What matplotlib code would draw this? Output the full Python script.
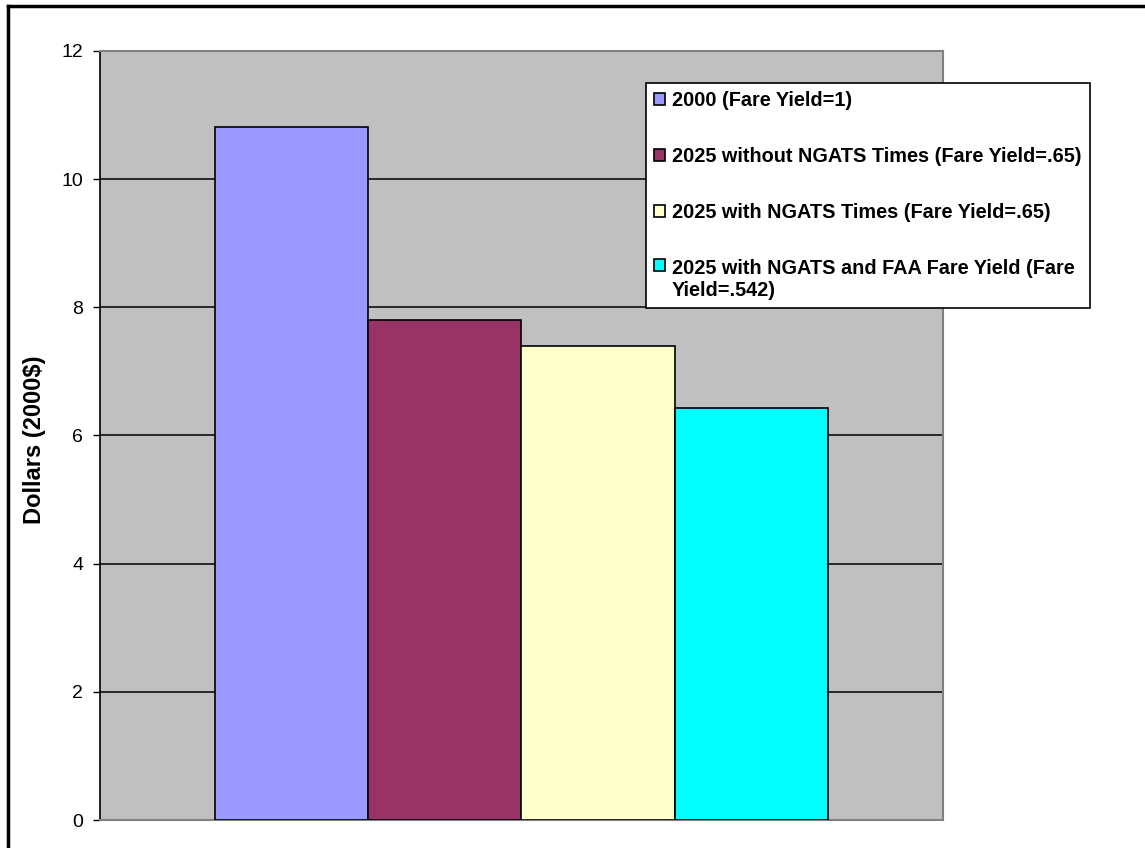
import matplotlib
matplotlib.use("Agg")
import matplotlib.pyplot as plt
from matplotlib.lines import Line2D

# values
series = [
    "2000 (Fare Yield=1)",
    "2025 without NGATS Times (Fare Yield=.65)",
    "2025 with NGATS Times (Fare Yield=.65)",
    "2025 with NGATS and FAA Fare Yield (Fare\nYield=.542)",
]
values = [10.82, 7.80, 7.40, 6.43]
colors = ["#9999FF", "#993366", "#FFFFCC", "#00FFFF"]
yticks = [0, 2, 4, 6, 8, 10, 12]

plt.rcParams["font.family"] = ["Liberation Sans", "DejaVu Sans"]

fig = plt.figure(figsize=(11.45, 8.48), dpi=100)
ax = fig.add_axes([0.0873, 0.033, 0.7363, 0.9069])
ax.set_facecolor("#C0C0C0")

bar_w = 0.1815
offsets = [(i - 1.5) * bar_w for i in range(len(values))]
for off, v, c, lab in zip(offsets, values, colors, series):
    ax.bar(off, v, width=bar_w, color=c, edgecolor="black", linewidth=1.2,
           label=lab, zorder=3)

ax.set_xlim(-0.5, 0.5)
ax.set_ylim(0, 12)
ax.set_yticks(yticks)
ax.set_xticks([])
ax.yaxis.grid(True, color="black", linewidth=1.1, zorder=1)
ax.set_axisbelow(True)
ax.tick_params(axis="y", direction="out", length=5, width=1, pad=7,
               labelsize=14, colors="black")

for side in ("top", "right", "bottom"):
    ax.spines[side].set_color("#808080")
    ax.spines[side].set_linewidth(1.5)
ax.spines["left"].set_color("black")
ax.spines["left"].set_linewidth(1.2)

ax.set_ylabel("Dollars (2000$)", fontsize=17, fontweight="bold")
ax.yaxis.set_label_coords(-0.064, 0.495)

leg = fig.legend(loc="upper left", bbox_to_anchor=(0.564, 0.902),
                 prop={"weight": "bold", "size": 14.3},
                 frameon=True, fancybox=False, framealpha=1,
                 edgecolor="black", facecolor="white",
                 handlelength=0.55, handleheight=0.55, handletextpad=0.35,
                 labelspacing=1.85, borderpad=0.42, borderaxespad=0)
leg.get_frame().set_linewidth(1.2)

# put the handle of the wrapped entry next to its first line
for col in leg._legend_handle_box.get_children():
    for row in col.get_children():
        if "\n" in row.get_children()[-1].get_text():
            row.align = "top"

# chart border (top and left edges visible)
fig.add_artist(Line2D([0.007, 1.0], [0.993, 0.993], transform=fig.transFigure,
                      color="black", linewidth=2.5))
fig.add_artist(Line2D([0.007, 0.007], [0.0, 0.993], transform=fig.transFigure,
                      color="black", linewidth=2.5))

fig.savefig("out.png", dpi=100)
